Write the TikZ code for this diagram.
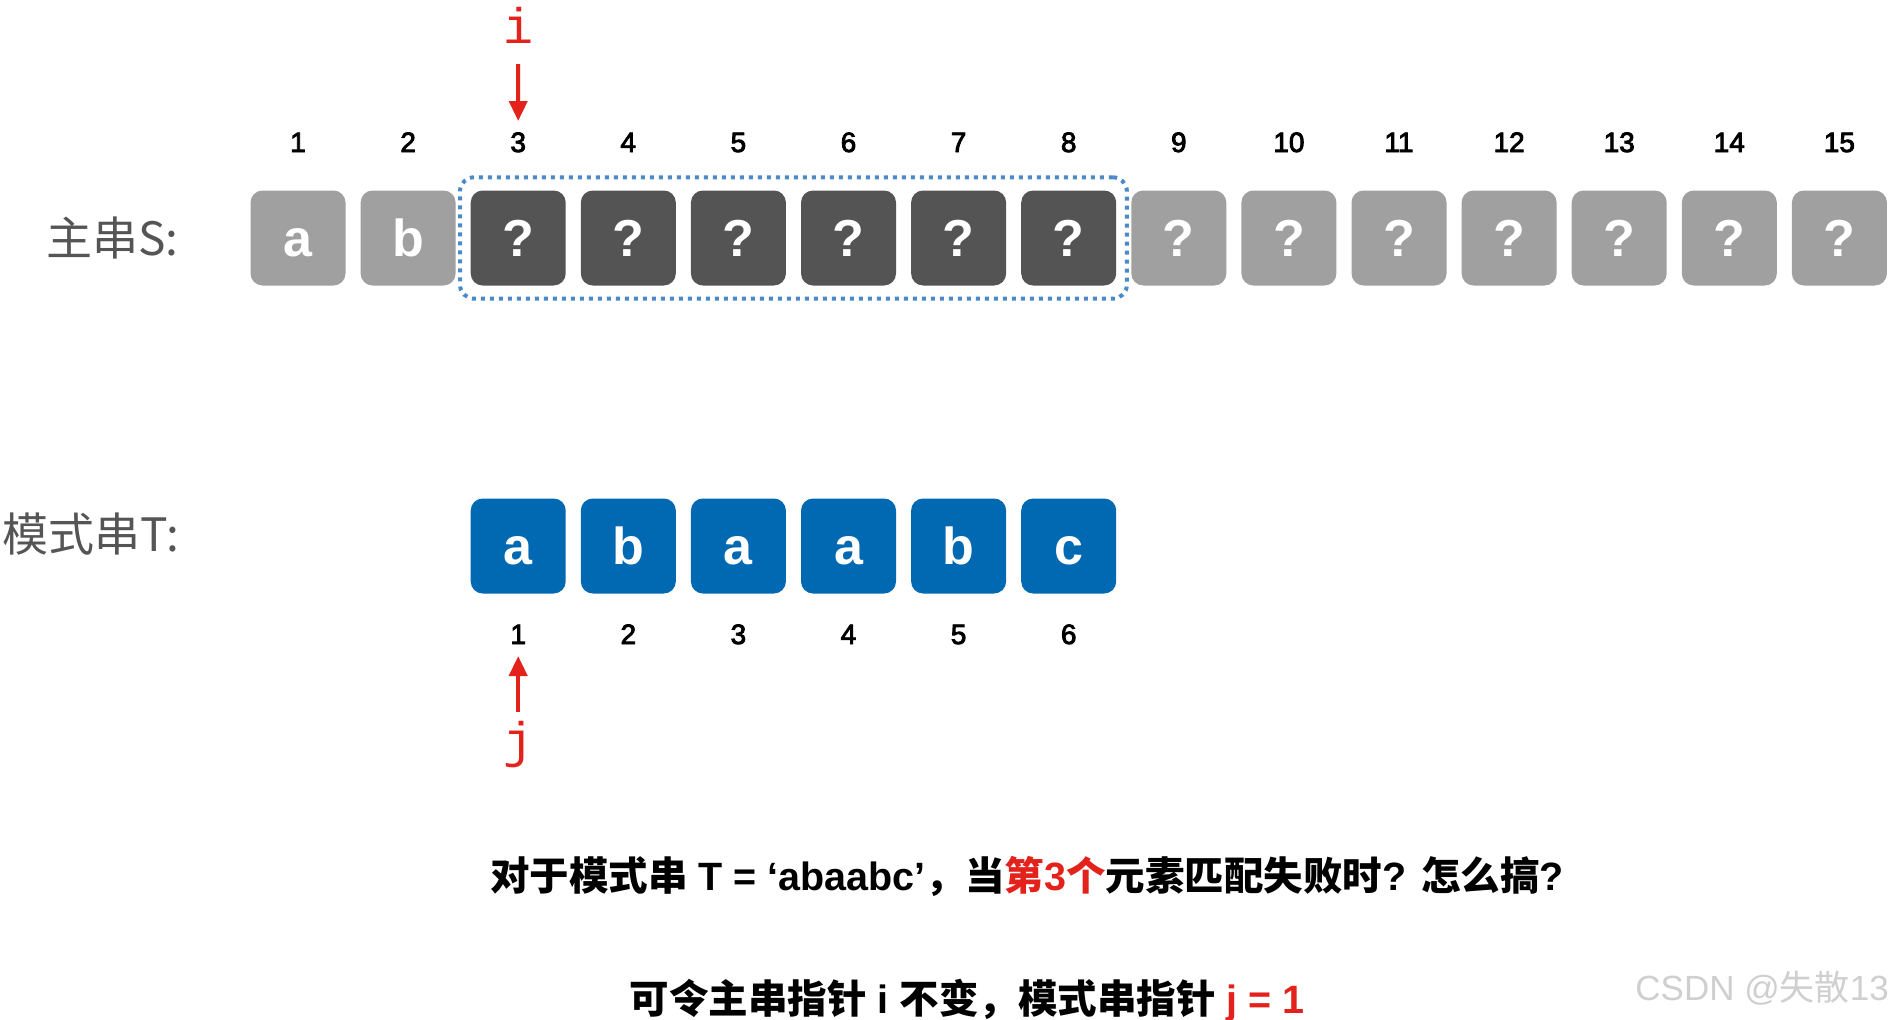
\documentclass[tikz,border=0pt]{standalone}
\usepackage{fontspec}
\setmainfont{Liberation Sans}
\newfontfamily\cjk{Noto Sans CJK SC}
\newfontfamily\monof{Liberation Mono}
\newfontfamily\numf{Liberation Sans}[FakeBold=3]
\usetikzlibrary{arrows.meta,fit}
\definecolor{lgray}{HTML}{A0A0A0}
\definecolor{dgray}{HTML}{545454}
\definecolor{tblue}{HTML}{0169B2}
\definecolor{pred}{HTML}{E3231B}
\definecolor{dotblue}{HTML}{4A8AC9}
\definecolor{lblgray}{HTML}{555555}
\definecolor{wmgray}{HTML}{CFCFCF}
\tikzset{
 cell/.style={rounded corners=12pt, minimum width=95pt, minimum height=95pt, inner sep=0pt,
   text=white, text height=37pt, text depth=0pt, font=\fontsize{52}{52}\selectfont\bfseries},
 lcell/.style={cell, fill=lgray},
 dcell/.style={cell, fill=dgray},
 bcell/.style={cell, fill=tblue},
 idx/.style={font=\numf\fontsize{28}{28}\selectfont, inner sep=0pt, text height=20pt, text depth=0pt},
 ptr/.style={draw=pred, line width=4pt, -{Triangle[width=18pt,length=20pt]}},
 ptrlbl/.style={text=pred, font=\monof\fontsize{50}{50}\selectfont, inner sep=0pt},
 rowlbl/.style={text=lblgray, font=\cjk\fontsize{46}{46}\selectfont, inner sep=0pt, anchor=west},
 txt/.style={font=\fontsize{39.5}{39.5}\selectfont\bfseries, inner sep=0pt},
 win/.style={draw=dotblue, line width=4pt, dash pattern=on 4pt off 5pt, rounded corners=14pt},
}
\begin{document}
\begin{tikzpicture}[x=1pt,y=-1pt]
\useasboundingbox (0,0) rectangle (1893,1020);
\foreach \k/\st/\ch in {1/lcell/a,2/lcell/b,3/dcell/?,4/dcell/?,5/dcell/?,6/dcell/?,7/dcell/?,8/dcell/?,9/lcell/?,10/lcell/?,11/lcell/?,12/lcell/?,13/lcell/?,14/lcell/?,15/lcell/?}{
  \pgfmathsetmacro\cx{298+(\k-1)*110.1}
  \node[idx] (n\k) at (\cx,142) {\k};
  \node[\st] (s\k) at (\cx,238) {\ch};
}
\node[win, fit=(s3)(s8), inner xsep=10.5pt, inner ysep=13pt] (window) {};
\foreach \k/\ch in {1/a,2/b,3/a,4/a,5/b,6/c}{
  \pgfmathsetmacro\cx{518.2+(\k-1)*110.1}
  \node[bcell] (t\k) at (\cx,546) {\ch};
  \node[idx] (m\k) at (\cx,634) {\k};
}
\node[rowlbl] (lblS) at (46,238) {主串S:};
\node[rowlbl] (lblT) at (2,534) {模式串T:};
\node[ptrlbl] (ilbl) at (518.2,25) {i};
\draw[ptr, shorten <=39pt, shorten >=21pt] (ilbl.center) -- (n3.center);
\node[ptrlbl] (jlbl) at (518.2,745) {j};
\draw[ptr, shorten <=33pt, shorten >=22pt] (jlbl.center) -- (m1.center);
\node[txt] (q1) at (1027,876) {{\cjk 对于模式串} T = ‘abaabc’{\cjk ，当}\textcolor{pred}{{\cjk 第}3{\cjk 个}}{\cjk 元素匹配失败时}? {\cjk 怎么搞}?};
\node[txt] (q2) at (967,1000) {{\cjk 可令主串指针} i {\cjk 不变，模式串指针} \textcolor{pred}{j = 1}};
\node[anchor=east, text=wmgray, font=\fontsize{35}{35}\selectfont, inner sep=0pt] (wm) at (1889,988) {CSDN @{\cjk 失散}13};
\end{tikzpicture}
\end{document}
